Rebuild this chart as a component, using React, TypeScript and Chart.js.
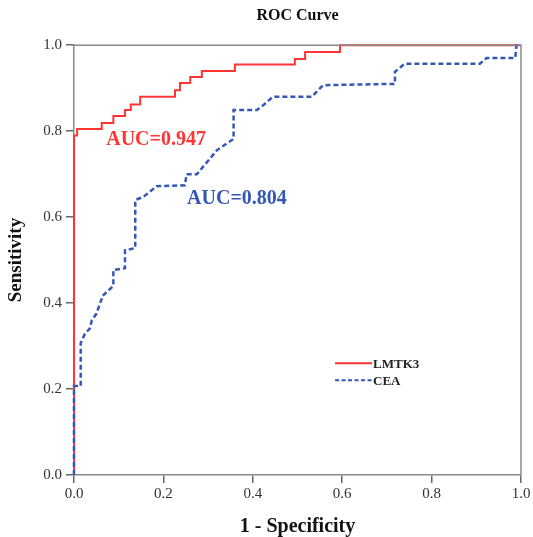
import { useEffect, useRef } from "react";
import { Chart, registerables } from "chart.js";
Chart.register(...registerables);

// ROC curve vertices (1 - specificity, sensitivity)
const lmtk3FPR = [0, 0, 0.007, 0.007, 0.062, 0.062, 0.088, 0.088, 0.114, 0.114, 0.127, 0.127, 0.148, 0.148, 0.226, 0.226, 0.237, 0.237, 0.26, 0.26, 0.286, 0.286, 0.36, 0.36, 0.494, 0.494, 0.517, 0.517, 0.595, 0.595, 1];
const lmtk3TPR = [0, 0.79, 0.79, 0.805, 0.805, 0.819, 0.819, 0.835, 0.835, 0.849, 0.849, 0.862, 0.862, 0.88, 0.88, 0.895, 0.895, 0.912, 0.912, 0.926, 0.926, 0.94, 0.94, 0.955, 0.955, 0.968, 0.968, 0.984, 0.984, 1, 1];
const ceaFPR = [0, 0, 0.015, 0.015, 0.025, 0.035, 0.04, 0.05, 0.062, 0.062, 0.088, 0.088, 0.114, 0.114, 0.137, 0.137, 0.155, 0.185, 0.248, 0.252, 0.275, 0.32, 0.357, 0.357, 0.409, 0.423, 0.445, 0.532, 0.557, 0.718, 0.718, 0.74, 0.908, 0.923, 0.987, 0.99, 1];
const ceaTPR = [0, 0.207, 0.207, 0.307, 0.33, 0.34, 0.36, 0.375, 0.41, 0.415, 0.44, 0.477, 0.481, 0.523, 0.528, 0.64, 0.647, 0.672, 0.674, 0.7, 0.7, 0.756, 0.782, 0.849, 0.849, 0.86, 0.88, 0.88, 0.907, 0.91, 0.938, 0.957, 0.957, 0.97, 0.97, 1, 1];

const seriesNames = ["LMTK3", "CEA"];
const aucLabels = ["AUC=0.947", "AUC=0.804"];
const tickValues = [0, 0.2, 0.4, 0.6, 0.8, 1.0];

const RED = "#ff3434";
const BLUE = "#3557b5";
const SERIF = "'Liberation Serif', 'Times New Roman', serif";

const toPoints = (xs: number[], ys: number[]) => xs.map((x, i) => ({ x, y: ys[i] }));

const decorPlugin = {
  id: "decor",
  afterDatasetsDraw(chart: any) {
    const { ctx, chartArea, scales } = chart;
    const xs = scales.x;
    const ys = scales.y;
    ctx.save();
    // top and right frame
    ctx.strokeStyle = "#8a8a8a";
    ctx.lineWidth = 1.5;
    ctx.beginPath();
    ctx.moveTo(chartArea.left, chartArea.top);
    ctx.lineTo(chartArea.right, chartArea.top);
    ctx.lineTo(chartArea.right, chartArea.bottom);
    ctx.stroke();

    // AUC annotations
    const ann = [
      { text: aucLabels[0], x: 0.072, y: 0.779, color: RED },
      { text: aucLabels[1], x: 0.253, y: 0.642, color: BLUE },
    ];
    ctx.font = `bold 20px ${SERIF}`;
    ctx.textBaseline = "middle";
    ctx.textAlign = "left";
    ann.forEach((a) => {
      ctx.fillStyle = a.color;
      ctx.fillText(a.text, xs.getPixelForValue(a.x), ys.getPixelForValue(a.y));
    });

    // legend
    const lx = xs.getPixelForValue(0.584);
    const ly0 = ys.getPixelForValue(0.26);
    const lineLen = 37;
    const ds = chart.data.datasets;
    ds.forEach((d: any, i: number) => {
      const ly = ly0 + i * 17;
      ctx.strokeStyle = d.borderColor;
      ctx.lineWidth = 2;
      ctx.setLineDash(i === 1 ? [4, 2.5] : []);
      ctx.beginPath();
      ctx.moveTo(lx, ly);
      ctx.lineTo(lx + lineLen, ly);
      ctx.stroke();
      ctx.setLineDash([]);
      ctx.fillStyle = "#222";
      ctx.font = `bold 13px ${SERIF}`;
      ctx.textBaseline = "middle";
      ctx.fillText(d.label, lx + lineLen + 1, ly + 1);
    });
    ctx.restore();
  },
};

export default function App() {
  const ref = useRef<HTMLCanvasElement>(null);
  useEffect(() => {
    document.body.style.margin = "0";
    const tickFont = { family: SERIF, size: 15 };
    const chart = new Chart(ref.current!, {
      type: "line",
      data: {
        datasets: [
          {
            label: seriesNames[0],
            data: toPoints(lmtk3FPR, lmtk3TPR),
            borderColor: RED,
            borderWidth: 2,
            pointRadius: 0,
            tension: 0,
            fill: false,
            clip: 6,
            order: 1,
          },
          {
            label: seriesNames[1],
            data: toPoints(ceaFPR, ceaTPR),
            borderColor: BLUE,
            borderWidth: 2.5,
            borderDash: [5, 3],
            pointRadius: 0,
            tension: 0,
            fill: false,
            clip: 6,
            order: 0,
          },
        ],
      },
      options: {
        responsive: false,
        animation: false,
        layout: { padding: { left: 0, right: 12, top: 0, bottom: 0 } },
        plugins: {
          legend: { display: false },
          tooltip: { enabled: false },
          title: {
            display: true,
            text: "ROC Curve",
            fullSize: false,
            color: "#111",
            font: { family: SERIF, size: 16, weight: "bold" },
            padding: { top: 6, bottom: 20 },
          },
        },
        scales: {
          x: {
            type: "linear",
            min: 0,
            max: 1,
            afterBuildTicks: (s: any) => {
              s.ticks = tickValues.map((v) => ({ value: v }));
            },
            afterFit: (s: any) => {
              s.height = 62;
            },
            ticks: {
              callback: (v: any) => Number(v).toFixed(1),
              color: "#333",
              font: tickFont,
              padding: 2,
              maxRotation: 0,
            },
            grid: {
              drawOnChartArea: false,
              drawTicks: true,
              tickLength: 8,
              color: "#666",
              lineWidth: 1.5,
            },
            border: { color: "#8a8a8a", width: 1.5 },
            title: {
              display: true,
              text: "1 - Specificity",
              color: "#111",
              font: { family: SERIF, size: 20, weight: "bold", lineHeight: 1 },
              padding: { top: 0, bottom: 0 },
            },
          },
          y: {
            type: "linear",
            min: 0,
            max: 1,
            afterBuildTicks: (s: any) => {
              s.ticks = tickValues.map((v) => ({ value: v }));
            },
            afterFit: (s: any) => {
              s.width = 74;
            },
            ticks: {
              callback: (v: any) => Number(v).toFixed(1),
              color: "#333",
              font: tickFont,
              padding: 4,
            },
            grid: {
              drawOnChartArea: false,
              drawTicks: true,
              tickLength: 8,
              color: "#666",
              lineWidth: 1.5,
            },
            border: { color: "#8a8a8a", width: 1.5 },
            title: {
              display: true,
              text: "Sensitivity",
              color: "#111",
              font: { family: SERIF, size: 19, weight: "bold", lineHeight: 1 },
              padding: { top: 7, bottom: 0 },
            },
          },
        },
      },
      plugins: [decorPlugin],
    });
    return () => chart.destroy();
  }, []);
  return <canvas ref={ref} width={533} height={537} style={{ display: "block" }} />;
}
